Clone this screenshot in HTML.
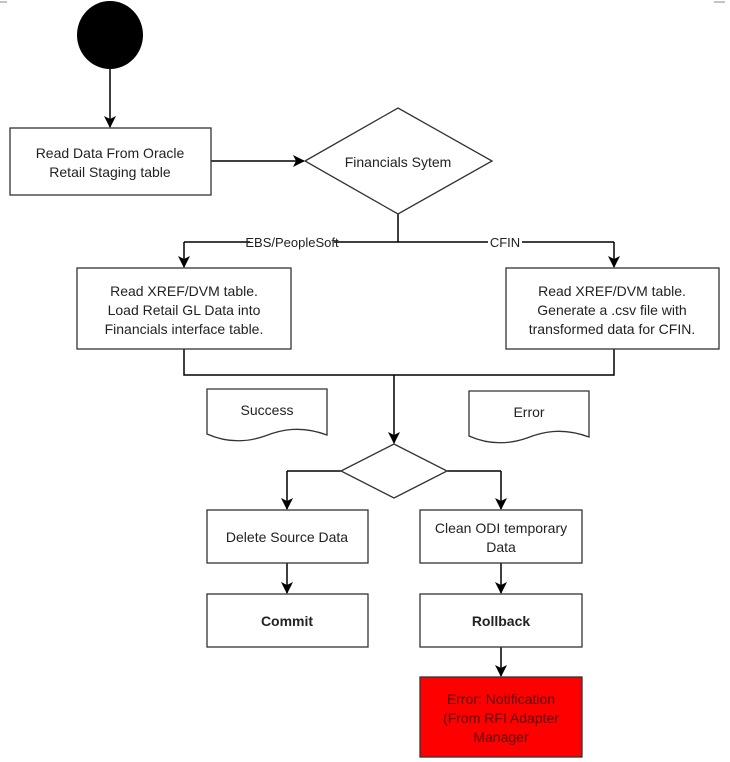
<!DOCTYPE html>
<html><head><style>
html,body{margin:0;padding:0;background:#fff;}
svg{display:block;}
text{font-family:"Liberation Sans",Arial,sans-serif;font-size:14px;fill:#222;}
</style></head><body>
<svg width="730" height="762" viewBox="0 0 730 762" xmlns="http://www.w3.org/2000/svg">
<defs><marker id="a" markerWidth="12" markerHeight="12" refX="11" refY="6" orient="auto" markerUnits="userSpaceOnUse"><path d="M0,0 L12,6 L0,12 L3,6 Z" fill="#000"/></marker></defs>
<g stroke="#888" stroke-width="1"><line x1="0" y1="2" x2="7" y2="2"/><line x1="714" y1="2" x2="725" y2="2"/></g>
<ellipse cx="110" cy="35" rx="33" ry="34" fill="#000"/>
<g stroke="#000" stroke-width="1.5" fill="none">
<line x1="110" y1="69" x2="110" y2="127" marker-end="url(#a)"/>
<line x1="211" y1="161" x2="304" y2="161" marker-end="url(#a)"/>
<polyline points="398,214 398,242"/>
<polyline points="184,242 614,242"/>
<line x1="184" y1="242" x2="184" y2="267" marker-end="url(#a)"/>
<line x1="614" y1="242" x2="614" y2="267" marker-end="url(#a)"/>
<polyline points="184,349 184,375 614,375 614,349"/>
<line x1="394" y1="375" x2="394" y2="443" marker-end="url(#a)"/>
<polyline points="341,471 287,471"/><line x1="287" y1="471" x2="287" y2="509" marker-end="url(#a)"/>
<polyline points="447,471 501,471"/><line x1="501" y1="471" x2="501" y2="509" marker-end="url(#a)"/>
<line x1="287" y1="563" x2="287" y2="593" marker-end="url(#a)"/>
<line x1="501" y1="563" x2="501" y2="593" marker-end="url(#a)"/>
<line x1="501" y1="647" x2="501" y2="676" marker-end="url(#a)"/>
</g>
<g stroke="#333" stroke-width="1.3" fill="#fff">
<rect x="10" y="128" width="201" height="67"/>
<polygon points="305,161 398,108 492,161 398,214"/>
<rect x="77" y="268" width="214" height="81"/>
<rect x="506" y="268" width="213" height="81"/>
<path d="M207,389 H327 V435 C300,425 280,430 265,436 C245,443 225,442 207,434 Z"/>
<path d="M469,391 H589 V437 C562,427 542,432 527,438 C507,445 487,444 469,436 Z"/>
<polygon points="341,471 394,444 447,471 394,498"/>
<rect x="207" y="510" width="161" height="53"/>
<rect x="420" y="510" width="162" height="53"/>
<rect x="207" y="594" width="161" height="53"/>
<rect x="420" y="594" width="162" height="53"/>
<rect x="420" y="677" width="162" height="80" fill="#f00"/>
</g>
<rect x="250" y="234" width="84" height="16" fill="#fff"/>
<rect x="488" y="234" width="34" height="16" fill="#fff"/>
<g text-anchor="middle">
<text x="110" y="158">Read Data From Oracle</text>
<text x="110" y="177">Retail Staging table</text>
<text x="398" y="167">Financials Sytem</text>
<text x="292" y="247" style="font-size:13px">EBS/PeopleSoft</text>
<text x="505" y="247" style="font-size:13px">CFIN</text>
<text x="184" y="296">Read XREF/DVM table.</text>
<text x="184" y="315">Load Retail GL Data into</text>
<text x="184" y="334">Financials interface table.</text>
<text x="612" y="296">Read XREF/DVM table.</text>
<text x="612" y="315">Generate a .csv file with</text>
<text x="612" y="334">transformed data for CFIN.</text>
<text x="267" y="415">Success</text>
<text x="529" y="417">Error</text>
<text x="287" y="542">Delete Source Data</text>
<text x="501" y="533">Clean ODI temporary</text>
<text x="501" y="552">Data</text>
<text x="287" y="626" style="font-weight:bold">Commit</text>
<text x="501" y="626" style="font-weight:bold">Rollback</text>
<text x="501" y="704" style="fill:#5a0000">Error: Notification</text>
<text x="501" y="723" style="fill:#5a0000">(From RFI Adapter</text>
<text x="501" y="742" style="fill:#5a0000">Manager</text>
</g>
</svg>
</body></html>
